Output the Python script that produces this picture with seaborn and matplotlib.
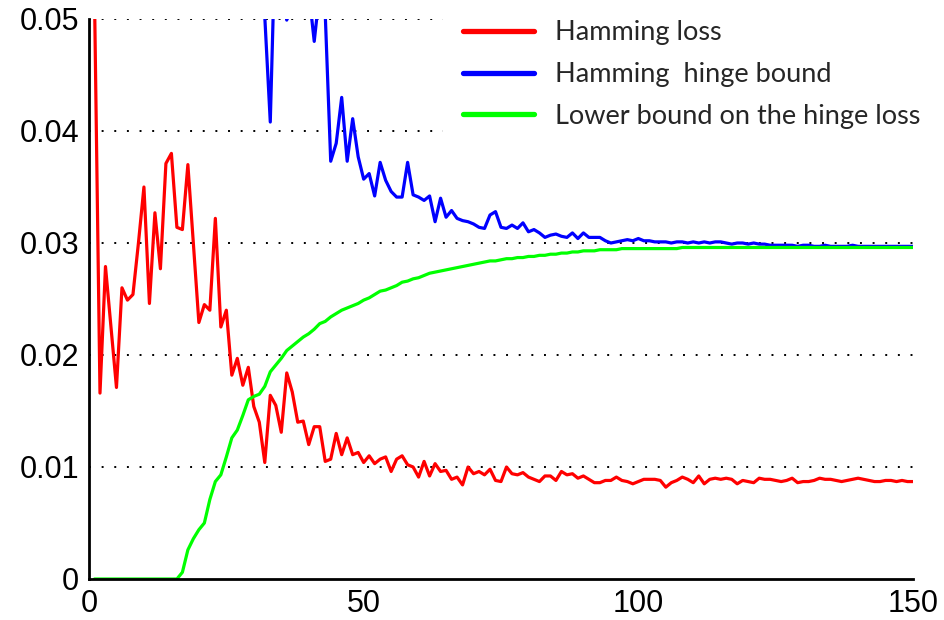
import numpy as np
import pandas as pd
import seaborn as sns
import matplotlib
matplotlib.use("Agg")
import matplotlib.pyplot as plt

# ---------------- data ----------------
iterations = list(range(1, 151))

hamming_loss = [
    0.0520, 0.0166, 0.0279, 0.0225, 0.0171, 0.0260, 0.0249, 0.0254, 0.0300, 0.0350,   # 1-10
    0.0246, 0.0327, 0.0277, 0.0371, 0.0380, 0.0314, 0.0312, 0.0370, 0.0300, 0.0229,   # 11-20
    0.0245, 0.0240, 0.0322, 0.0225, 0.0240, 0.0182, 0.0197, 0.0173, 0.0189, 0.0154,   # 21-30
    0.0140, 0.0104, 0.0164, 0.0155, 0.0131, 0.0184, 0.0167, 0.0140, 0.0141, 0.0120,   # 31-40
    0.0136, 0.0136, 0.0105, 0.0107, 0.0130, 0.0111, 0.0126, 0.0111, 0.0113, 0.0104,   # 41-50
    0.0110, 0.0103, 0.0107, 0.0109, 0.0096, 0.0107, 0.0110, 0.0102, 0.0100, 0.0091,   # 51-60
    0.0105, 0.0092, 0.0103, 0.0096, 0.0097, 0.0089, 0.0091, 0.0084, 0.0100, 0.0094,   # 61-70
    0.0096, 0.0093, 0.0098, 0.0088, 0.0087, 0.0100, 0.0094, 0.0093, 0.0095, 0.0091,   # 71-80
    0.0089, 0.0087, 0.0092, 0.0092, 0.0088, 0.0096, 0.0093, 0.0094, 0.0090, 0.0092,   # 81-90
    0.0089, 0.0086, 0.0086, 0.0088, 0.0088, 0.0091, 0.0088, 0.0087, 0.0085, 0.0087,   # 91-100
    0.0089, 0.0089, 0.0089, 0.0088, 0.0082, 0.0086, 0.0088, 0.0091, 0.0089, 0.0086,   # 101-110
    0.0092, 0.0085, 0.0089, 0.0090, 0.0089, 0.0090, 0.0089, 0.0085, 0.0088, 0.0087,   # 111-120
    0.0086, 0.0090, 0.0089, 0.0089, 0.0088, 0.0087, 0.0088, 0.0090, 0.0086, 0.0087,   # 121-130
    0.0087, 0.0088, 0.0090, 0.0089, 0.0089, 0.0088, 0.0087, 0.0088, 0.0089, 0.0090,   # 131-140
    0.0089, 0.0088, 0.0087, 0.0087, 0.0088, 0.0088, 0.0087, 0.0088, 0.0087, 0.0087,   # 141-150
]

# hinge bound is off the top of the chart for the first iterations (not drawn)
hinge_bound = [np.nan] * 29 + [
    0.0620,                                                                           # 30
    0.0580, 0.0502, 0.0408, 0.0590, 0.0620, 0.0499, 0.0620, 0.0600, 0.0570, 0.0525,   # 31-40
    0.0480, 0.0525, 0.0505, 0.0373, 0.0389, 0.0430, 0.0373, 0.0411, 0.0377, 0.0357,   # 41-50
    0.0362, 0.0342, 0.0372, 0.0356, 0.0346, 0.0341, 0.0341, 0.0372, 0.0343, 0.0341,   # 51-60
    0.0338, 0.0342, 0.0319, 0.0340, 0.0323, 0.0329, 0.0322, 0.0320, 0.0319, 0.0317,   # 61-70
    0.0314, 0.0313, 0.0325, 0.0328, 0.0314, 0.0313, 0.0316, 0.0313, 0.0318, 0.0310,   # 71-80
    0.0312, 0.0309, 0.0305, 0.0307, 0.0308, 0.0306, 0.0305, 0.0309, 0.0304, 0.0309,   # 81-90
    0.0305, 0.0305, 0.0305, 0.0302, 0.0300, 0.0301, 0.0302, 0.0303, 0.0302, 0.0304,   # 91-100
    0.0302, 0.0302, 0.0301, 0.0301, 0.0301, 0.0300, 0.0301, 0.0301, 0.0300, 0.0301,   # 101-110
    0.0300, 0.0301, 0.0300, 0.0301, 0.0301, 0.0300, 0.0299, 0.0300, 0.0300, 0.0299,   # 111-120
    0.0300, 0.0299, 0.0299, 0.0298, 0.0298, 0.0298, 0.0298, 0.0298, 0.0297, 0.0298,   # 121-130
    0.0298, 0.0297, 0.0297, 0.0298, 0.0297, 0.0297, 0.0297, 0.0297, 0.0298, 0.0297,   # 131-140
    0.0297, 0.0297, 0.0297, 0.0297, 0.0297, 0.0297, 0.0297, 0.0297, 0.0297, 0.0297,   # 141-150
]

lower_bound = [
    0.0, 0.0, 0.0, 0.0, 0.0, 0.0, 0.0, 0.0, 0.0, 0.0,                                 # 1-10
    0.0, 0.0, 0.0, 0.0, 0.0, 0.0, 0.0006, 0.0026, 0.0036, 0.0044,                     # 11-20
    0.0050, 0.0071, 0.0087, 0.0093, 0.0109, 0.0126, 0.0133, 0.0146, 0.0160, 0.0163,   # 21-30
    0.0165, 0.0172, 0.0185, 0.0191, 0.0197, 0.0204, 0.0208, 0.0212, 0.0216, 0.0219,   # 31-40
    0.0223, 0.0228, 0.0230, 0.0234, 0.0237, 0.0240, 0.0242, 0.0244, 0.0246, 0.0249,   # 41-50
    0.0251, 0.0254, 0.0257, 0.0258, 0.0260, 0.0262, 0.0265, 0.0266, 0.0268, 0.0269,   # 51-60
    0.0271, 0.0273, 0.0274, 0.0275, 0.0276, 0.0277, 0.0278, 0.0279, 0.0280, 0.0281,   # 61-70
    0.0282, 0.0283, 0.0284, 0.0284, 0.0285, 0.0286, 0.0286, 0.0287, 0.0287, 0.0288,   # 71-80
    0.0288, 0.0289, 0.0289, 0.0290, 0.0290, 0.0291, 0.0291, 0.0292, 0.0292, 0.0293,   # 81-90
    0.0293, 0.0293, 0.0294, 0.0294, 0.0294, 0.0294, 0.0295, 0.0295, 0.0295, 0.0295,   # 91-100
    0.0295, 0.0295, 0.0295, 0.0295, 0.0295, 0.0295, 0.0295, 0.0296, 0.0296, 0.0296,   # 101-110
    0.0296, 0.0296, 0.0296, 0.0296, 0.0296, 0.0296, 0.0296, 0.0296, 0.0296, 0.0296,   # 111-120
    0.0296, 0.0296, 0.0296, 0.0296, 0.0296, 0.0296, 0.0296, 0.0296, 0.0296, 0.0296,   # 121-130
    0.0296, 0.0296, 0.0296, 0.0296, 0.0296, 0.0296, 0.0296, 0.0296, 0.0296, 0.0296,   # 131-140
    0.0296, 0.0296, 0.0296, 0.0296, 0.0296, 0.0296, 0.0296, 0.0296, 0.0296, 0.0296,   # 141-150
]

series_names = ["Hamming loss", "Hamming  hinge bound", "Lower bound on the hinge loss"]
series_colors = ["#ff0000", "#0000ff", "#00ff00"]
x_ticks = [0, 50, 100, 150]
y_ticks = [0, 0.01, 0.02, 0.03, 0.04, 0.05]
y_tick_labels = ["0", "0.01", "0.02", "0.03", "0.04", "0.05"]

# ---------------- build long table ----------------
frames = []
for name, vals in zip(series_names, [hamming_loss, hinge_bound, lower_bound]):
    frames.append(pd.DataFrame({"iter": iterations, "value": vals, "series": name}))
df = pd.concat(frames, ignore_index=True)

# ---------------- plot ----------------
sns.set_style("white")
plt.rcParams["font.family"] = ["Liberation Sans", "DejaVu Sans"]

fig = plt.figure(figsize=(9.45, 6.2), dpi=100)
ax = fig.add_axes([89 / 945, 41 / 620, 824 / 945, 560 / 620])

# dotted horizontal grid
for yv in y_ticks[1:]:
    ax.axhline(yv, color="black", linestyle=(0, (1, 5.5)), linewidth=1.4, zorder=1)

sns.lineplot(data=df, x="iter", y="value", hue="series", hue_order=series_names,
             palette=series_colors, linewidth=2.3, ax=ax, zorder=3, legend=True)

ax.set_xlim(0, 150)
ax.set_ylim(0, 0.05)
ax.set_xticks(x_ticks)
ax.set_xticklabels([str(t) for t in x_ticks])
ax.set_yticks(y_ticks)
ax.set_yticklabels(y_tick_labels)
ax.set_xlabel("")
ax.set_ylabel("")

for side in ["top", "right"]:
    ax.spines[side].set_visible(False)
for side in ["left", "bottom"]:
    ax.spines[side].set_color("black")
    ax.spines[side].set_linewidth(2.0)
    ax.spines[side].set_zorder(4)

ax.tick_params(axis="both", direction="in", length=7, width=1.5, colors="black",
               labelsize=22, pad=7, labelcolor="black")

handles, labels = ax.get_legend_handles_labels()
for h in handles:
    h.set_linewidth(3.8)
leg = ax.legend(handles, labels, loc="upper left",
                bbox_to_anchor=(443 / 945, 1.0), bbox_transform=fig.transFigure,
                frameon=True, fancybox=False, framealpha=1.0, facecolor="white",
                edgecolor="none", borderpad=0.75, handlelength=2.6, handletextpad=0.78,
                labelspacing=0.62, borderaxespad=0,
                prop={"family": ["Lato", "DejaVu Sans"], "size": 19.5})
leg.set_zorder(10)

fig.savefig("out.png", dpi=100, facecolor="white")
